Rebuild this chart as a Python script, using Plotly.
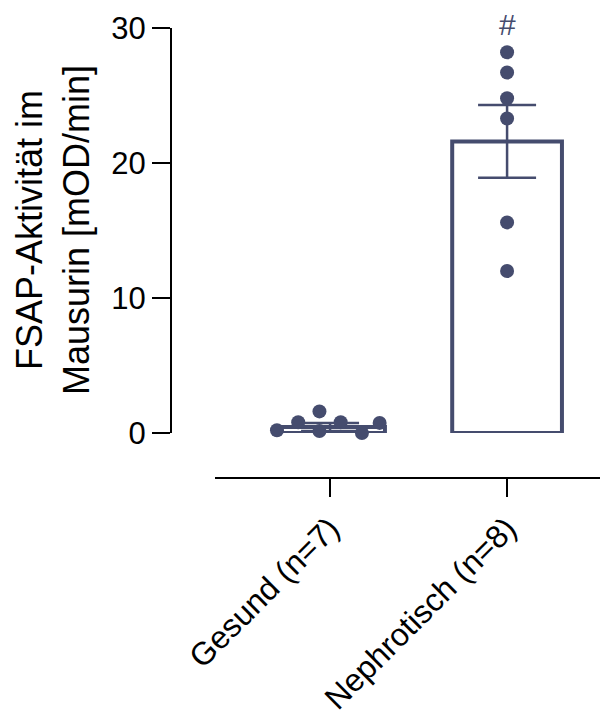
import plotly.graph_objects as go

# Groups and measured FSAP activity (mOD/min) in mouse urine
categories = ["Gesund (n=7)", "Nephrotisch (n=8)"]
gesund_values = [0.2, 0.8, 1.6, 0.15, 0.8, 0.0, 0.75]
nephrotisch_values = [28.2, 26.7, 24.8, 23.3, 15.6, 12.0]
group_means = [0.45, 21.6]
group_sem = [0.3, 2.7]
significance_mark = "#"

# horizontal spread of the individual points within each group
gesund_spread = [-0.30, -0.18, -0.06, -0.06, 0.06, 0.18, 0.28]
nephrotisch_spread = [0.0] * len(nephrotisch_values)

ink = "#454c6e"
font_family = "Liberation Sans, Arial, sans-serif"

fig = go.Figure()

fig.add_trace(go.Bar(
    x=[0, 1],
    y=group_means,
    width=0.62,
    marker=dict(color="white", line=dict(color=ink, width=4)),
    error_y=dict(type="data", array=group_sem, visible=True,
                 color=ink, thickness=2.5, width=29),
    cliponaxis=False,
    showlegend=False,
))

pts_x = [0 + d for d in gesund_spread] + [1 + d for d in nephrotisch_spread]
pts_y = gesund_values + nephrotisch_values
fig.add_trace(go.Scatter(
    x=pts_x, y=pts_y, mode="markers",
    marker=dict(color=ink, size=14),
    cliponaxis=False,
    showlegend=False,
))

# significance marker above the nephrotic group
fig.add_annotation(
    x=1, y=1.007, xref="x", yref="paper", text=significance_mark,
    showarrow=False, font=dict(family=font_family, size=30, color=ink),
    xanchor="center", yanchor="middle",
)

fig.add_annotation(
    x=-0.275, y=0.551, xref="paper", yref="paper",
    text="FSAP-Aktivität im<br>Mausurin [mOD/min]",
    textangle=-90, showarrow=False,
    font=dict(family=font_family, size=36, color="black"),
    xanchor="center", yanchor="middle",
)

fig.update_layout(
    width=612, height=713,
    margin=dict(l=171, r=12, t=28, b=235, autoexpand=False),
    paper_bgcolor="white", plot_bgcolor="white",
    font=dict(family=font_family, color="black"),
    xaxis=dict(
        domain=[0.1026, 1], range=[-0.65, 1.525],
        anchor="free", position=0, automargin=False,
        tickvals=[0, 1], ticktext=categories, tickangle=-45,
        ticks="outside", ticklen=18, tickwidth=2, tickcolor="black",
        showline=True, linecolor="black", linewidth=2,
        showgrid=False, zeroline=False,
        tickfont=dict(size=32, color="black"),
    ),
    yaxis=dict(
        domain=[0.1, 1], range=[0, 30],
        anchor="free", position=0, automargin=False,
        tickvals=[0, 10, 20, 30],
        ticks="outside", ticklen=18, tickwidth=2, tickcolor="black",
        showline=True, linecolor="black", linewidth=2,
        showgrid=False, zeroline=False,
        tickfont=dict(size=31, color="black"),
    ),
)

fig.write_html("out.html")
